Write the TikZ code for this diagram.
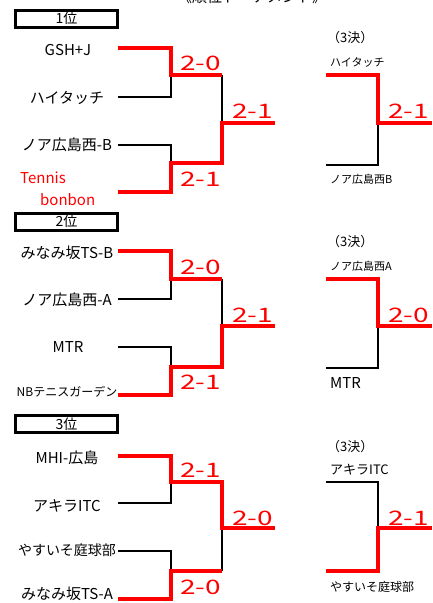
\documentclass[tikz,border=0pt]{standalone}
\usepackage{fontspec}
\setmainfont{Noto Sans CJK JP}
\usepackage{xcolor}
\usepackage{graphicx}
\definecolor{winred}{RGB}{255,0,0}
\newcommand{\widescore}[1]{\scalebox{1.4}[1]{#1}}
\tikzset{
  win/.style={draw=winred, line width=4.2pt},
  lose/.style={draw=black, line width=1.6pt},
  team/.style={inner sep=0pt, font=\fontsize{15}{15}\selectfont},
  sideteam/.style={inner sep=0pt, anchor=west, font=\fontsize{11}{11}\selectfont},
  score/.style={inner sep=0pt, anchor=west, text=winred, font=\fontsize{20}{20}\selectfont},
  rankbox/.style={draw, line width=3pt, minimum width=102pt, minimum height=17pt, inner sep=0pt, font=\fontsize{14}{14}\selectfont},
}

\begin{document}
\begin{tikzpicture}[x=1pt, y=-1pt]
\useasboundingbox[fill=white] (0,0) rectangle (432,603);
\node[anchor=base, font=\fontsize{15}{15}\selectfont] (title) at (252,2.5) {《順位トーナメント》};

% 1位
\node[rankbox] (rank1) at (66.5,18.5) {1位};
\node[team] (n1a) at (68,50) {GSH+J};
\node[team] (n1b) at (67,98) {ハイタッチ};
\node[team] (n1c) at (67,145) {ノア広島西-B};
\node[team, anchor=west, text=winred, align=left] (n1d) at (20,189) {Tennis\\[7pt]\hspace{20pt}bonbon};

\coordinate (g1a) at (118,48);
\coordinate (g1b) at (118,97);
\coordinate (g1c) at (118,145);
\coordinate (g1d) at (118,192);
\coordinate (m1a) at (171,75);
\coordinate (m1b) at (171,163);
\coordinate (f1) at (222,123);
\coordinate (f1end) at (275,123);

\draw[lose] (g1b) -| (m1a);
\draw[lose] (g1c) -| (m1b);
\draw[lose] (m1a -| f1) -- (f1);
\draw[win] (g1a) -| (m1a) -- (m1a -| f1);
\draw[win] (g1d) -| (m1b) -- (m1b -| f1) -- (f1) -- (f1end);

\node[score] (s1a) at (180,63) {\widescore{2-0}};
\node[score] (s1b) at (180,179) {\widescore{2-1}};
\node[score] (s1f) at (232,111) {\widescore{2-1}};

\node[inner sep=0pt, anchor=west, font=\fontsize{13}{13}\selectfont] (h1) at (327,38) {（3決）};
\node[sideteam] (t1a) at (330,62) {ハイタッチ};
\node[sideteam] (t1b) at (330,179) {ノア広島西B};
\coordinate (p1a) at (326,75);
\coordinate (p1b) at (326,165);
\coordinate (q1) at (378,123);
\coordinate (q1end) at (432,123);
\draw[lose] (p1b) -| (q1);
\draw[win] (p1a) -| (q1) -- (q1end);
\node[score] (s1t) at (388,111) {\widescore{2-1}};

% 2位
\node[rankbox] (rank2) at (66.5,221.5) {2位};
\node[team] (n2a) at (67,253) {みなみ坂TS-B};
\node[team] (n2b) at (67,300) {ノア広島西-A};
\node[team] (n2c) at (68,347) {MTR};
\node[team, font=\fontsize{12}{12}\selectfont] (n2d) at (67,392) {NBテニスガーデン};

\coordinate (g2a) at (118,251);
\coordinate (g2b) at (118,299);
\coordinate (g2c) at (118,347);
\coordinate (g2d) at (118,395);
\coordinate (m2a) at (171,279);
\coordinate (m2b) at (171,367);
\coordinate (f2) at (222,326);
\coordinate (f2end) at (275,326);

\draw[lose] (g2b) -| (m2a);
\draw[lose] (g2c) -| (m2b);
\draw[lose] (m2a -| f2) -- (f2);
\draw[win] (g2a) -| (m2a) -- (m2a -| f2);
\draw[win] (g2d) -| (m2b) -- (m2b -| f2) -- (f2) -- (f2end);

\node[score] (s2a) at (180,267) {\widescore{2-0}};
\node[score] (s2b) at (180,382) {\widescore{2-1}};
\node[score] (s2f) at (232,315) {\widescore{2-1}};

\node[inner sep=0pt, anchor=west, font=\fontsize{13}{13}\selectfont] (h2) at (327,242) {（3決）};
\node[sideteam] (t2a) at (330,266) {ノア広島西A};
\node[sideteam, font=\fontsize{15}{15}\selectfont] (t2b) at (330,383) {MTR};
\coordinate (p2a) at (326,279);
\coordinate (p2b) at (326,368);
\coordinate (q2) at (378,326);
\coordinate (q2end) at (432,326);
\draw[lose] (p2b) -| (q2);
\draw[win] (p2a) -| (q2) -- (q2end);
\node[score] (s2t) at (388,315) {\widescore{2-0}};

% 3位
\node[rankbox] (rank3) at (66.5,424) {3位};
\node[team] (n3a) at (67,458) {MHI-広島};
\node[team] (n3b) at (67,506) {アキラITC};
\node[team, font=\fontsize{14}{14}\selectfont] (n3c) at (67,550) {やすいそ庭球部};
\node[team] (n3d) at (67,594) {みなみ坂TS-A};

\coordinate (g3a) at (118,456);
\coordinate (g3b) at (118,503);
\coordinate (g3c) at (118,551);
\coordinate (g3d) at (118,599);
\coordinate (m3a) at (171,482);
\coordinate (m3b) at (171,571);
\coordinate (f3) at (222,528);
\coordinate (f3end) at (275,528);

\draw[lose] (g3b) -| (m3a);
\draw[lose] (g3c) -| (m3b);
\draw[lose] (m3b -| f3) -- (f3);
\draw[win] (g3a) -| (m3a) -- (m3a -| f3) -- (f3) -- (f3end);
\draw[win] (g3d) -| (m3b) -- (m3b -| f3);

\node[score] (s3a) at (180,470) {\widescore{2-1}};
\node[score] (s3b) at (180,587) {\widescore{2-0}};
\node[score] (s3f) at (232,518) {\widescore{2-0}};

\node[inner sep=0pt, anchor=west, font=\fontsize{13}{13}\selectfont] (h3) at (327,447) {（3決）};
\node[sideteam, font=\fontsize{13}{13}\selectfont] (t3a) at (330,470) {アキラITC};
\node[sideteam, font=\fontsize{12}{12}\selectfont] (t3b) at (330,587) {やすいそ庭球部};
\coordinate (p3a) at (326,482);
\coordinate (p3b) at (326,571);
\coordinate (q3) at (378,528);
\coordinate (q3end) at (432,528);
\draw[lose] (p3a) -| (q3);
\draw[win] (p3b) -| (q3) -- (q3end);
\node[score] (s3t) at (388,518) {\widescore{2-1}};
\end{tikzpicture}
\end{document}
